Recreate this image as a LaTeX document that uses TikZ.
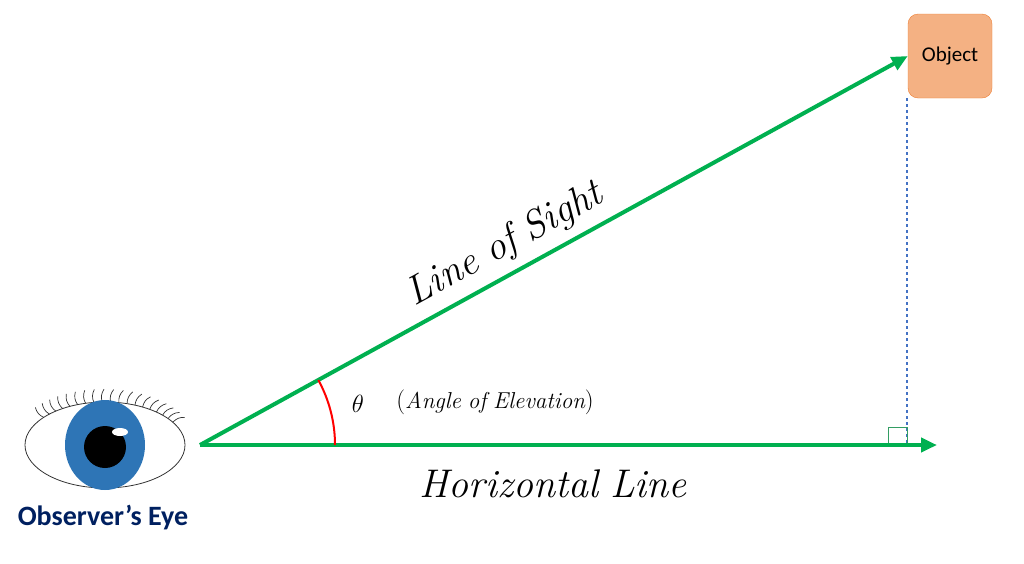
\documentclass[tikz,border=0pt]{standalone}
\usepackage{fontspec}
\setsansfont{Carlito}
\usetikzlibrary{arrows.meta,calc}
\definecolor{sightgreen}{HTML}{00B050}
\definecolor{irisblue}{HTML}{2E75B6}
\definecolor{navy}{HTML}{002060}
\definecolor{objfill}{HTML}{F4B183}
\definecolor{objline}{HTML}{ED7D31}
\definecolor{dashblue}{HTML}{4472C4}
\begin{document}
\begin{tikzpicture}[
  x=1pt,
  y=-1pt,
  >={Triangle[length=16pt,width=14pt]},
  sight/.style={draw=sightgreen,line width=4pt,->},
]
  \useasboundingbox (0,0) rectangle (1024,563);
  % eye
  \coordinate (eye) at (105,445);
  \draw[black!80,line width=0.8pt] (eye) ellipse[x radius=80,y radius=43];
  \foreach \a in {-140,-134,...,-30} {
    \draw[black!80,line width=0.7pt]
      ($(eye)+(\a:80 and 43)$) to[bend left=25] ++(\a+10:13);
  }
  \fill[irisblue] (eye) ellipse[x radius=40,y radius=45];
  \fill[black] (105,447) circle[radius=21];
  \fill[white] (120,432) ellipse[x radius=8,y radius=4];
  \node[font=\sffamily\bfseries\fontsize{28}{32}\selectfont,text=navy]
    (eyelbl) at (103,518) {Observer’s Eye};
  % object
  \node[draw=objline,fill=objfill,rounded corners=10pt,minimum width=84pt,
    minimum height=84pt,inner sep=0pt,font=\sffamily\fontsize{21}{24}\selectfont]
    (obj) at (950,56) {Object};
  \coordinate (apex) at (200,445);
  \coordinate (hend) at (937,445);
  \coordinate (foot) at (907,445);
  \draw[dashblue,dashed,line width=1.6pt] (907,98) -- (foot);
  \draw[sightgreen!60!gray,line width=0.8pt] (888,427) rectangle (foot);
  \draw[sight] (apex) -- (hend);
  \draw[sight] (apex) -- (obj.west);
  % angle
  \draw[red,line width=2pt] (335,445) arc[start angle=0,end angle=-28.8,radius=135];
  \node[font=\fontsize{40}{44}\selectfont] (theta) at (358,404) {$\theta$};
  \node[font=\fontsize{23}{26}\selectfont] (elev) at (495,402) {$(\mathit{Angle\ of\ Elevation})$};
  \node[font=\fontsize{40}{44}\selectfont] (hlbl) at (553,484) {$\mathit{Horizontal\ Line}$};
  \node[font=\fontsize{40}{44}\selectfont,rotate=28.8] (slbl) at (505,245) {$\mathit{Line\ of\ Sight}$};
\end{tikzpicture}
\end{document}
